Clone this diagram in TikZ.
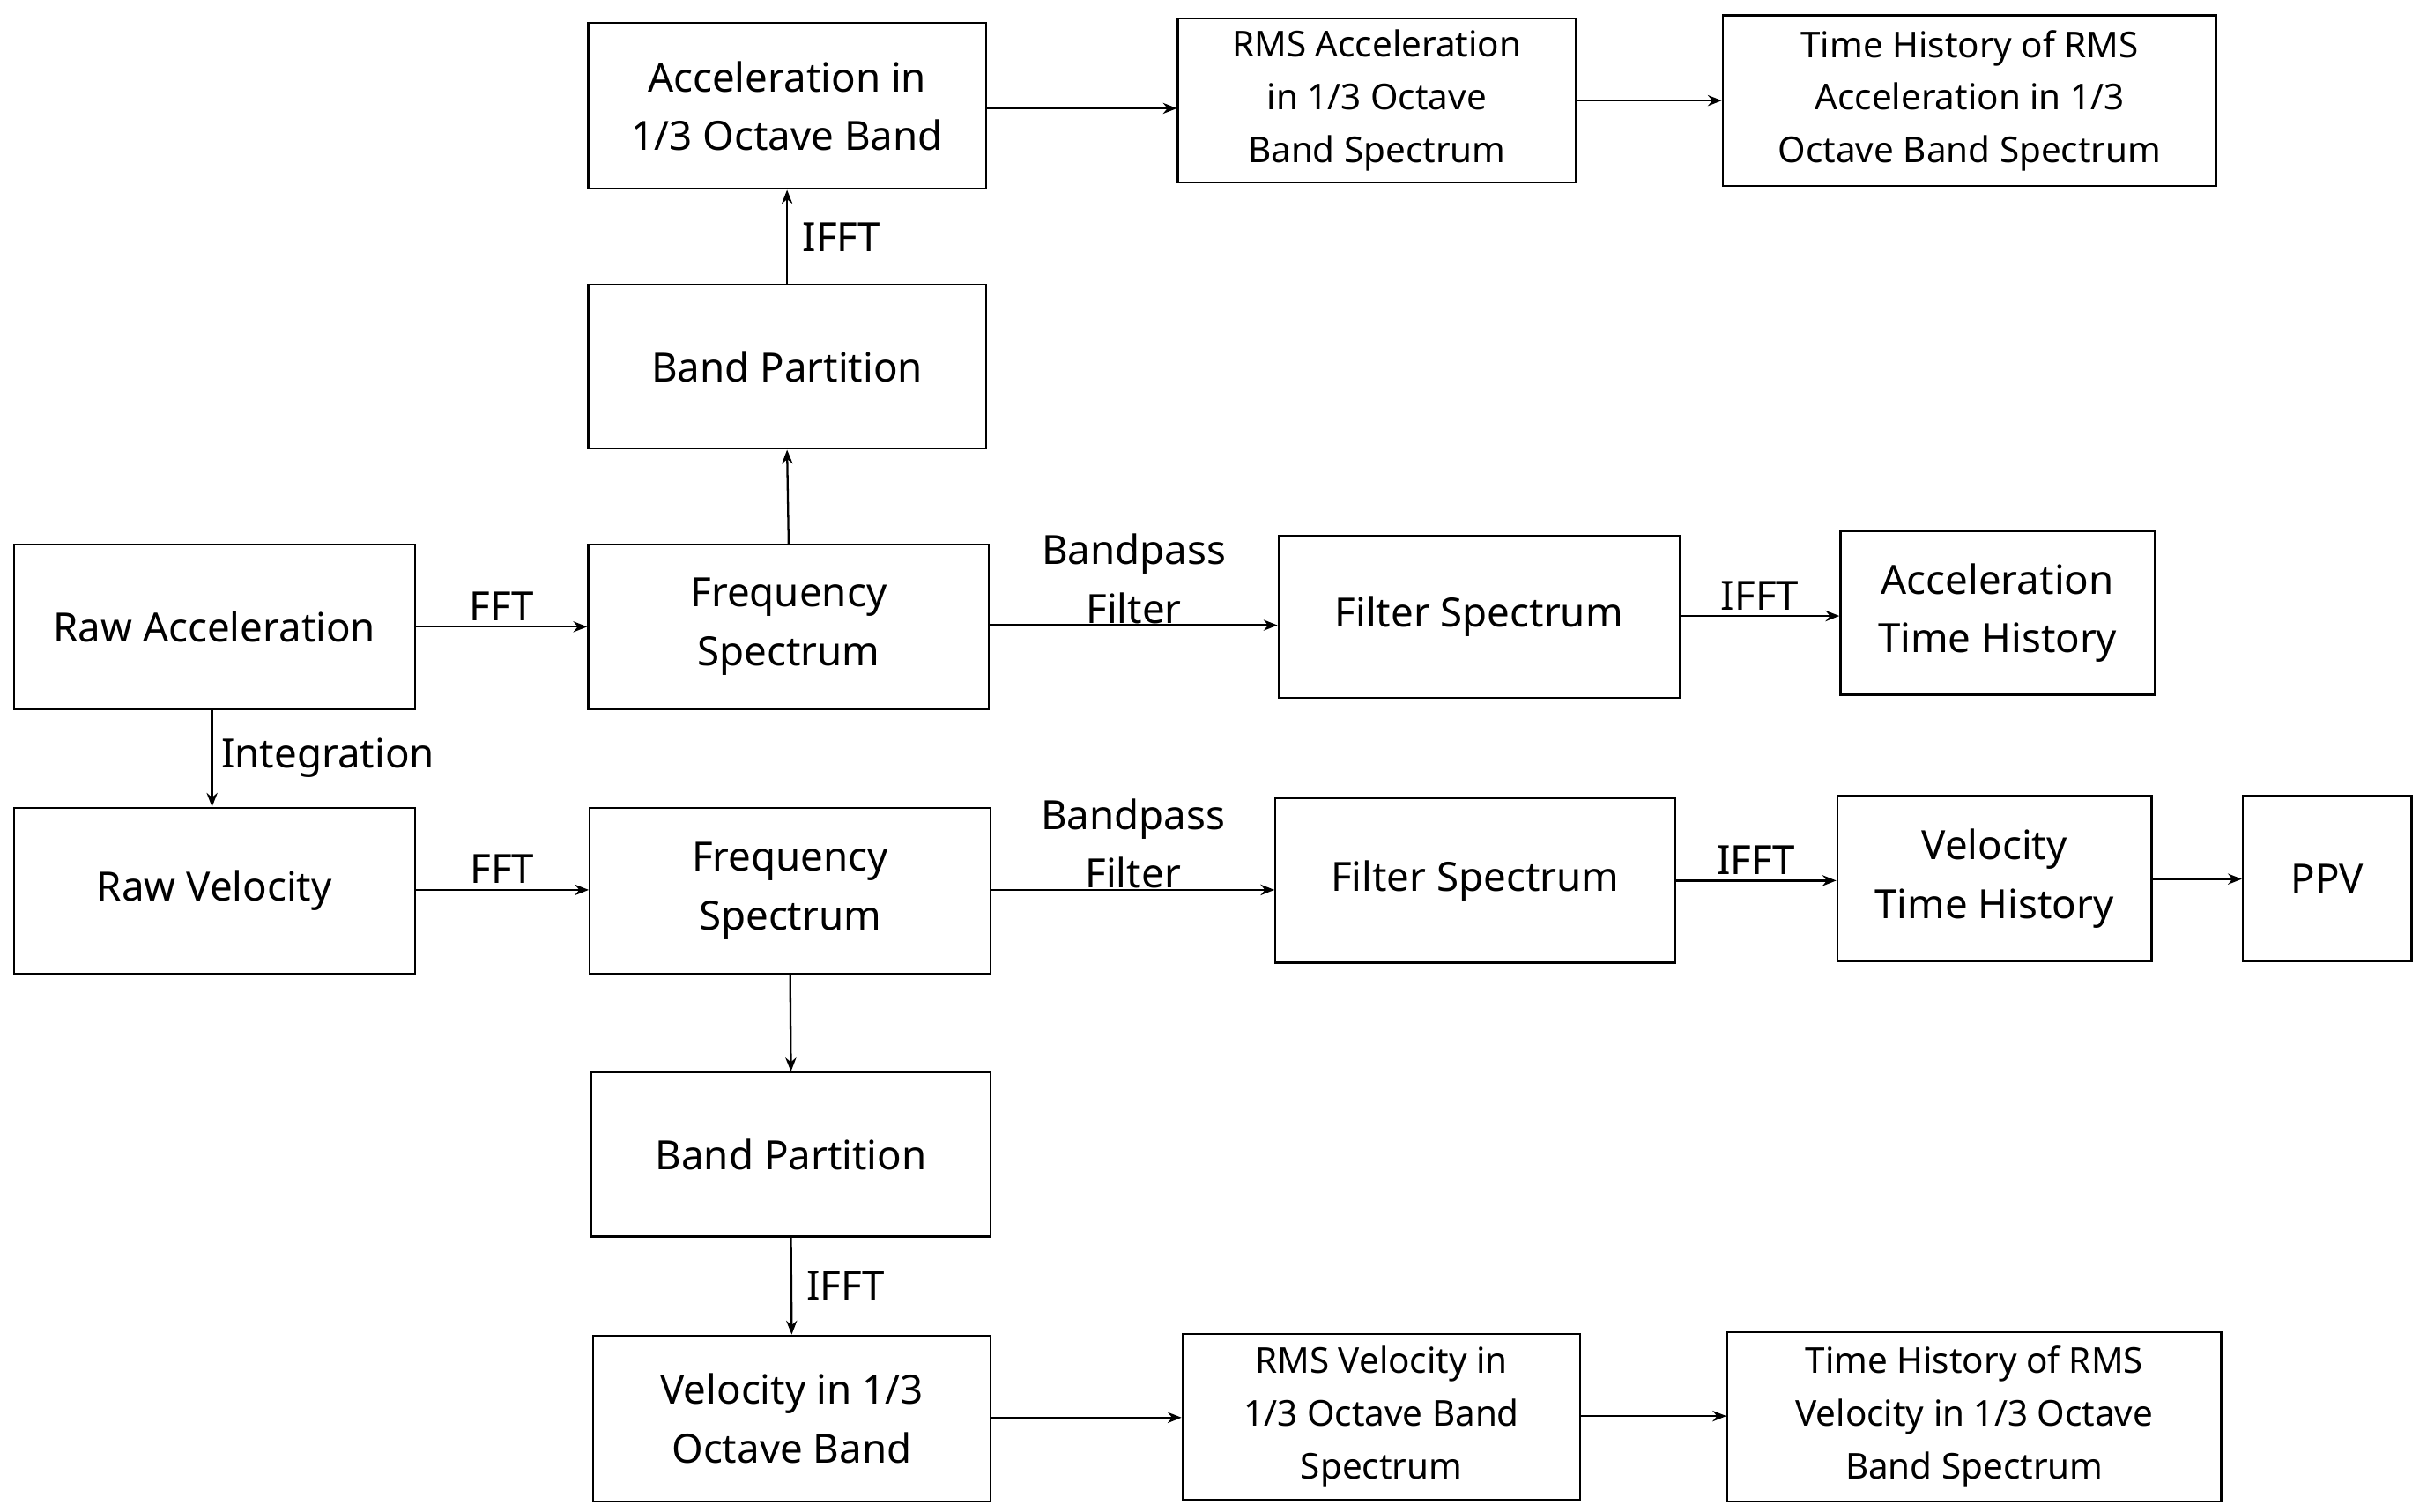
\documentclass[tikz,border=0pt]{standalone}
\usepackage{fontspec}
\setmainfont{Noto Sans}
\usetikzlibrary{arrows.meta}
\begin{document}
\begin{tikzpicture}[x=1pt,y=-1pt,
 box/.style={draw,line width=1.3pt,align=center,inner sep=0pt,font=\fontsize{26}{38}\selectfont},
 sbox/.style={box,font=\fontsize{23}{34}\selectfont},
 arr/.style={-{Stealth[length=9pt,width=7pt]},line width=1.3pt},
 lbl/.style={font=\fontsize{26}{38}\selectfont,align=center}]
\useasboundingbox (0,0) rectangle (1568,977);
\newcommand\bx[7]{\node[#1,minimum width=#4-#3,minimum height=#6-#5] (#2) at ({(#3+#4)/2},{(#5+#6)/2}) {#7};}
\bx{box}{acc13}{380}{637}{15}{122}{Acceleration in\\1/3 Octave Band}
\bx{sbox}{rmsacc}{761}{1018}{12}{118}{RMS Acceleration\\in 1/3 Octave\\Band Spectrum}
\bx{sbox}{thacc}{1113}{1432}{10}{120}{Time History of RMS\\Acceleration in 1/3\\Octave Band Spectrum}
\bx{box}{bp1}{380}{637}{184}{290}{Band Partition}
\bx{box}{rawacc}{9}{268}{352}{458}{Raw Acceleration}
\bx{box}{fs1}{380}{639}{352}{458}{Frequency\\Spectrum}
\bx{box}{fil1}{826}{1085}{346}{451}{Filter Spectrum}
\bx{box}{accth}{1189}{1392}{343}{449}{Acceleration\\Time History}
\bx{box}{rawvel}{9}{268}{522}{629}{Raw Velocity}
\bx{box}{fs2}{381}{640}{522}{629}{Frequency\\Spectrum}
\bx{box}{fil2}{824}{1082}{516}{622}{Filter Spectrum}
\bx{box}{velth}{1187}{1390}{514}{621}{Velocity\\Time History}
\bx{box}{ppv}{1449}{1558}{514}{621}{PPV}
\bx{box}{bp2}{382}{640}{693}{799}{Band Partition}
\bx{box}{vel13}{383}{640}{863}{970}{Velocity in 1/3\\Octave Band}
\bx{sbox}{rmsvel}{764}{1021}{862}{969}{RMS Velocity in\\1/3 Octave Band\\Spectrum}
\bx{sbox}{thvel}{1116}{1435}{861}{970}{Time History of RMS\\Velocity in 1/3 Octave\\Band Spectrum}
\draw[arr] (fs1.north) -- (bp1.south);
\draw[arr] (bp1.north) -- node[lbl,right=6pt]{IFFT} (acc13.south);
\draw[arr] (acc13.east|-0,70) -- (rmsacc.west|-0,70);
\draw[arr] (rmsacc.east|-0,65) -- (thacc.west|-0,65);
\draw[arr] (rawacc.east|-0,405) -- node[lbl,above]{FFT} (fs1.west|-0,405);
\draw[arr] (fs1.east|-0,404) -- node[lbl,above,yshift=-3pt]{Bandpass\\Filter} (fil1.west|-0,404);
\draw[arr] (fil1.east|-0,398) -- node[lbl,above]{IFFT} (accth.west|-0,398);
\draw[arr] (rawacc.south-|137,0) -- node[lbl,right=2pt]{Integration} (rawvel.north-|137,0);
\draw[arr] (rawvel.east|-0,575) -- node[lbl,above]{FFT} (fs2.west|-0,575);
\draw[arr] (fs2.east|-0,575) -- node[lbl,above,yshift=-3pt]{Bandpass\\Filter} (fil2.west|-0,575);
\draw[arr] (fil2.east|-0,569) -- node[lbl,above]{IFFT} (velth.west|-0,569);
\draw[arr] (velth.east|-0,568) -- (ppv.west|-0,568);
\draw[arr] (fs2.south) -- (bp2.south|-bp2.north);
\draw[arr] (bp2.south) -- node[lbl,right=6pt]{IFFT} (vel13.north);
\draw[arr] (vel13.east|-0,916) -- (rmsvel.west|-0,916);
\draw[arr] (rmsvel.east|-0,915) -- (thvel.west|-0,915);
\end{tikzpicture}
\end{document}
